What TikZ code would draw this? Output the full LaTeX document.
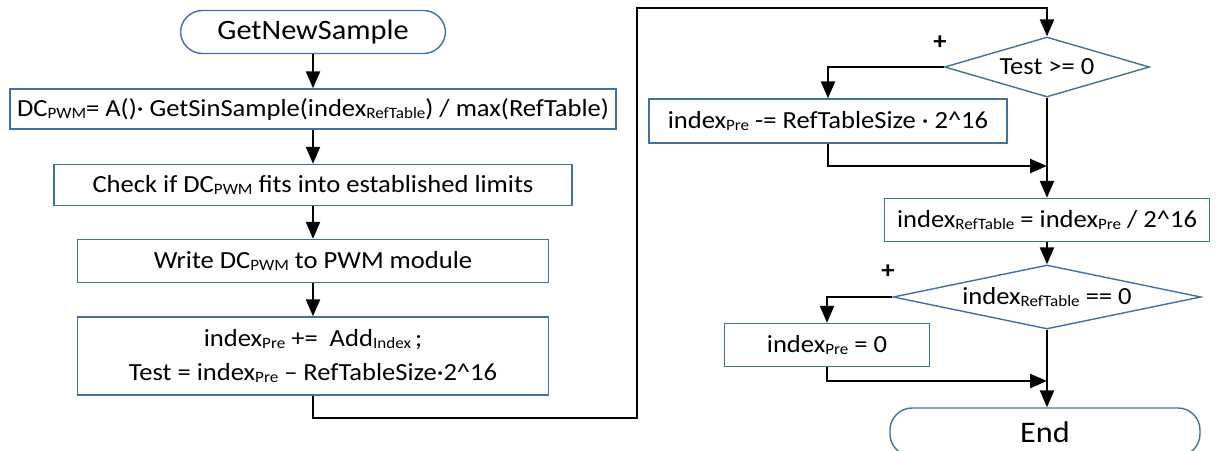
\documentclass[tikz,border=0pt]{standalone}
\usepackage{fontspec}
\setmainfont{Carlito}[FakeStretch=1.08]
\usetikzlibrary{arrows.meta,positioning,shapes.geometric}
\definecolor{boxblue}{RGB}{65,113,156}
\newcommand{\lowtxt}[1]{\raisebox{-0.2ex}{\fontsize{9}{9}\selectfont #1}}

\begin{document}
\begin{tikzpicture}[x=0.02cm, y=-0.02cm, >={Triangle[length=0.34cm,width=0.28cm]}, line width=1.3pt,
  blk/.style={draw=boxblue, line width=0.8pt, rectangle, inner sep=0pt, font=\fontsize{14}{19}\selectfont, align=center},
  term/.style={blk, rounded corners=0.44cm},
  dec/.style={blk, diamond},
  sign/.style={font=\fontsize{14}{14}\selectfont\bfseries}]
	  \useasboundingbox (0,0) rectangle (1217,450);
	  \node[term, minimum width=5.3cm, minimum height=0.86cm, font=\fontsize{16}{18}\selectfont] (start) at (313,32) {GetNewSample};
	  \node[blk, minimum width=12.12cm, minimum height=0.8cm] (calc) at (313,109) {DC\lowtxt{PWM}= A()· GetSinSample(index\lowtxt{RefTable}) / max(RefTable)};
	  \node[blk, minimum width=10.36cm, minimum height=0.82cm] (check) at (313,185) {Check if DC\lowtxt{PWM} fits into established limits};
	  \node[blk, minimum width=9.42cm, minimum height=0.86cm] (write) at (313,261) {Write DC\lowtxt{PWM} to PWM module};
	  \node[blk, minimum width=9.42cm, minimum height=1.56cm] (incr) at (313,356) {index\lowtxt{Pre} +=~ Add\lowtxt{Index}\,;\\Test = index\lowtxt{Pre} – RefTableSize·2\textasciicircum16};
	  \node[dec, aspect=3.4, minimum width=4.1cm, minimum height=1.2cm] (test) at (1047,67) {Test >= 0};
	  \node[blk, minimum width=7.16cm, minimum height=0.88cm] (wrap) at (828,121) {index\lowtxt{Pre} -= RefTableSize · 2\textasciicircum16};
	  \node[blk, minimum width=6.5cm, minimum height=0.86cm] (ref) at (1047,220) {index\lowtxt{RefTable} = index\lowtxt{Pre} / 2\textasciicircum16};
	  \node[dec, aspect=4.8, minimum width=6.16cm, minimum height=1.28cm] (zero) at (1047,297) {index\lowtxt{RefTable} == 0};
	  \node[blk, minimum width=4.1cm, minimum height=0.86cm] (reset) at (827,345) {index\lowtxt{Pre} = 0};
	  \node[term, minimum width=6.2cm, minimum height=0.96cm, font=\fontsize{17}{18}\selectfont] (stop) at (1045,432) {End};
	  \node[sign] (plusa) at (940,43) {+}; \node[sign] (plusb) at (888,272) {+};
	  \coordinate (loopa) at (637,418); \coordinate (loopb) at (1047,8);
	  \coordinate (joina) at (1047,166); \coordinate (joinb) at (1047,381);
	  \draw[->] (start) -- (calc); \draw[->] (calc) -- (check); \draw[->] (check) -- (write); \draw[->] (write) -- (incr);
	  \draw[->] (incr.south) |- (loopa) |- (loopb) -- (test.north);
	  \draw[->] (test.west) -| (wrap.north); \draw[->] (wrap.south) |- (joina);
	  \draw[->] (test.south) -- (ref.north); \draw[->] (ref.south) -- (zero.north);
	  \draw[->] (zero.west) -| (reset.north); \draw[->] (reset.south) |- (joinb);
	  \draw[->] (zero.south) -- (stop.north -| zero.south);
	\end{tikzpicture}
\end{document}
